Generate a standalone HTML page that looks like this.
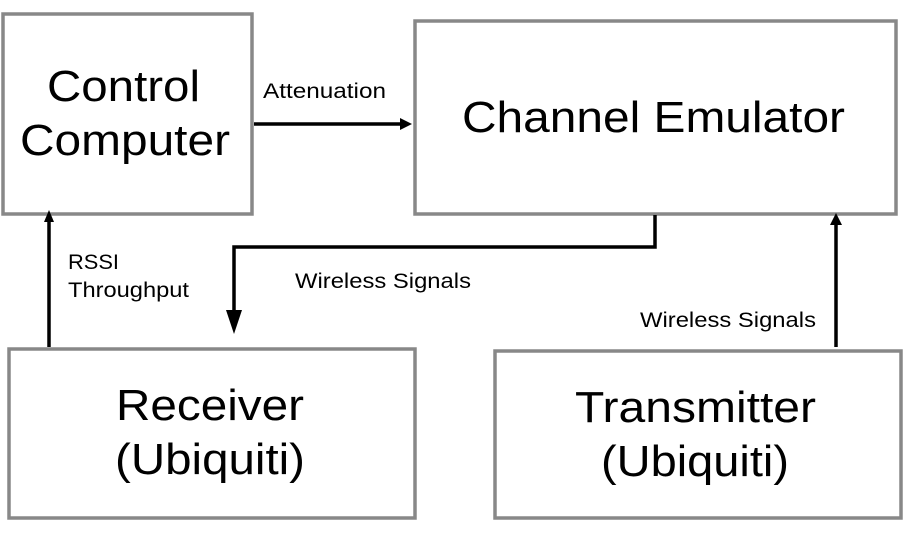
<!DOCTYPE html>
<html><head><style>body{margin:0;background:#fff} svg text{font-family:"Liberation Sans",Arial,sans-serif}</style></head><body>
<svg width="904" height="531" xmlns="http://www.w3.org/2000/svg">
<rect x="0" y="0" width="904" height="531" fill="#fff"/>
<g fill="none" stroke="#888" stroke-width="3.5">
<rect x="3" y="14" width="249" height="200"/>
<rect x="415" y="21" width="481" height="193"/>
<rect x="9" y="349" width="406" height="169"/>
<rect x="495" y="351" width="406" height="167"/>
</g>
<g stroke="#000" stroke-width="3.5" fill="none">
<line x1="254" y1="124" x2="402" y2="124"/>
<line x1="49" y1="347" x2="49" y2="222"/>
<polyline points="655,215 655,247 234,247 234,318"/>
<line x1="836" y1="347" x2="836" y2="224"/>
</g>
<g fill="#000">
<polygon points="412,124 400,118 400,130"/>
<polygon points="49,210 44,222 54,222"/>
<polygon points="234,334 226,310 242,310"/>
<polygon points="836,213 830,225 842,225"/>
</g>
<g font-size="21">
<text x="263" y="98" textLength="123" lengthAdjust="spacingAndGlyphs">Attenuation</text>
<text x="68" y="269" textLength="51" lengthAdjust="spacingAndGlyphs">RSSI</text>
<text x="68" y="297" textLength="121" lengthAdjust="spacingAndGlyphs">Throughput</text>
<text x="295" y="288" textLength="176" lengthAdjust="spacingAndGlyphs">Wireless Signals</text>
<text x="640" y="327" textLength="176" lengthAdjust="spacingAndGlyphs">Wireless Signals</text>
</g>
<g font-size="44">
<text x="47" y="101" textLength="153" lengthAdjust="spacingAndGlyphs">Control</text>
<text x="20" y="155" textLength="210" lengthAdjust="spacingAndGlyphs">Computer</text>
<text x="462" y="132" textLength="383" lengthAdjust="spacingAndGlyphs">Channel Emulator</text>
<text x="116" y="420" textLength="188" lengthAdjust="spacingAndGlyphs">Receiver</text>
<text x="115" y="474" textLength="190" lengthAdjust="spacingAndGlyphs">(Ubiquiti)</text>
<text x="575" y="422" textLength="241" lengthAdjust="spacingAndGlyphs">Transmitter</text>
<text x="601" y="476" textLength="188" lengthAdjust="spacingAndGlyphs">(Ubiquiti)</text>
</g>
</svg>
</body></html>
